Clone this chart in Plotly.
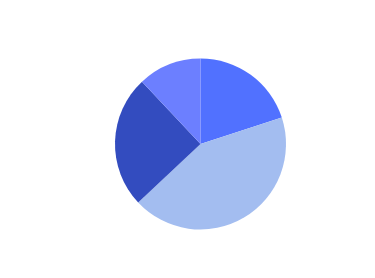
import plotly.graph_objects as go

labels = ["A", "B", "C", "D"]
values = [20, 43, 25, 12]
colors = ["#5171ff", "#a3bdf0", "#334cbf", "#6c7fff"]

fig = go.Figure(go.Pie(
    labels=labels,
    values=values,
    sort=False,
    direction="clockwise",
    rotation=0,
    marker=dict(colors=colors, line=dict(width=0)),
    textinfo="none",
    showlegend=False,
))
fig.update_layout(
    width=375, height=278,
    margin=dict(l=115, r=89, t=58, b=48),
    paper_bgcolor="white",
    plot_bgcolor="white",
)
fig.write_html("out.html")
